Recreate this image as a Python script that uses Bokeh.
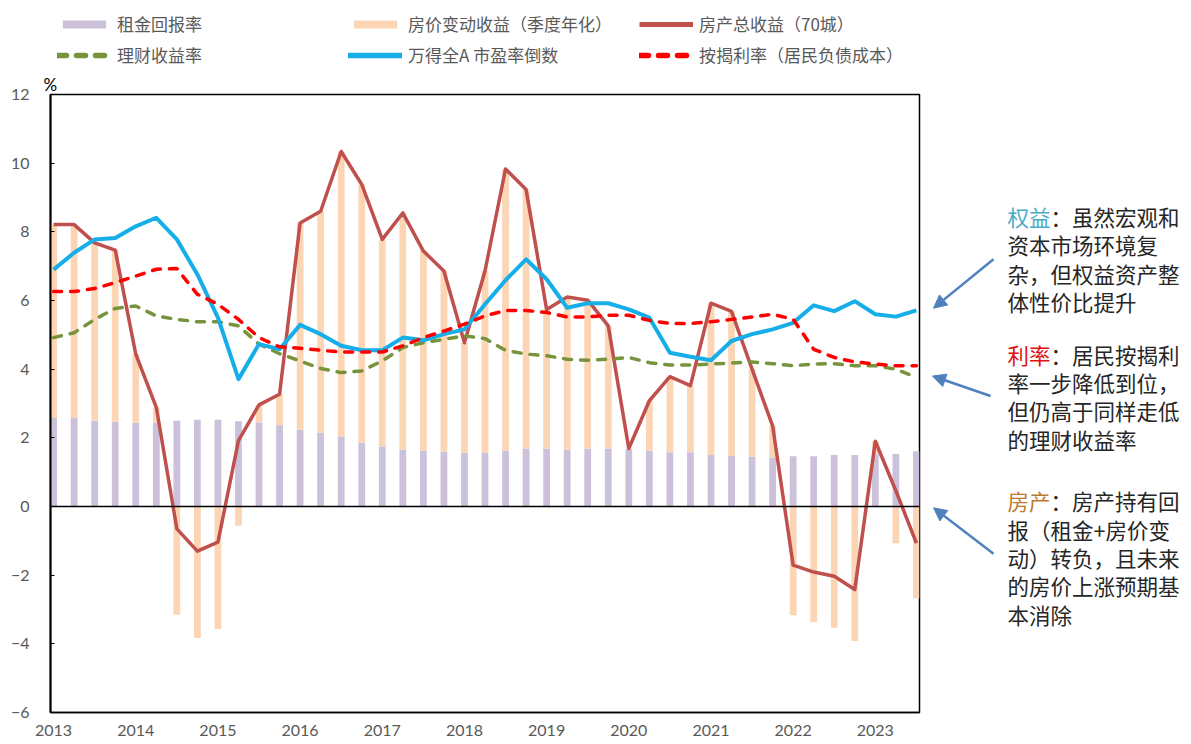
import numpy as np
from bokeh.plotting import figure
from bokeh.models import (Range1d, FixedTicker, Legend, LegendItem, Span, Label,
                          Arrow, NormalHead, ColumnDataSource)
from bokeh.layouts import row, column
from bokeh.embed import file_html
from bokeh.resources import INLINE

# ---------------- data (quarterly, 2013Q1 .. 2023Q3) ----------------
year_labels = ["2013", "2014", "2015", "2016", "2017", "2018", "2019", "2020", "2021", "2022", "2023"]

rent = [2.58, 2.58, 2.50, 2.47, 2.44, 2.45, 2.50, 2.53, 2.53, 2.48, 2.45, 2.37, 2.24, 2.15,
        2.04, 1.86, 1.75, 1.65, 1.63, 1.60, 1.56, 1.56, 1.63, 1.69, 1.69, 1.65, 1.69, 1.69,
        1.67, 1.63, 1.58, 1.58, 1.50, 1.48, 1.45, 1.43, 1.46, 1.46, 1.50, 1.50, 1.52, 1.53, 1.61]

price_change = [5.63, 5.63, 5.18, 5.00, 2.00, 0.44, -3.15, -3.83, -3.57, -0.56, 0.51, 0.90,
                6.02, 6.45, 8.30, 7.52, 6.03, 6.90, 5.81, 5.26, 3.21, 5.30, 8.20, 7.54, 4.05,
                4.45, 4.32, 3.57, 0.02, 1.45, 2.20, 1.94, 4.42, 4.20, 2.55, 0.92, -3.17, -3.37,
                -3.53, -3.92, 0.38, -1.07, -2.68]

total_return = [8.21, 8.21, 7.68, 7.47, 4.44, 2.89, -0.65, -1.30, -1.04, 1.92, 2.96, 3.27,
                8.26, 8.60, 10.34, 9.38, 7.78, 8.55, 7.44, 6.86, 4.77, 6.86, 9.83, 9.23, 5.74,
                6.10, 6.01, 5.26, 1.69, 3.08, 3.78, 3.52, 5.92, 5.68, 4.00, 2.35, -1.71, -1.91,
                -2.03, -2.42, 1.90, 0.46, -1.07]

wealth_yield = [4.92, 5.06, 5.45, 5.77, 5.84, 5.55, 5.45, 5.38, 5.38, 5.26, 4.73, 4.45, 4.24,
                4.02, 3.90, 3.95, 4.24, 4.63, 4.77, 4.87, 4.97, 4.89, 4.55, 4.44, 4.39, 4.29,
                4.26, 4.29, 4.34, 4.19, 4.12, 4.12, 4.15, 4.18, 4.21, 4.16, 4.10, 4.15, 4.16,
                4.10, 4.10, 4.00, 3.76]

wind_ep = [6.90, 7.39, 7.78, 7.82, 8.16, 8.41, 7.78, 6.76, 5.50, 3.71, 4.73, 4.58, 5.29, 5.02,
           4.68, 4.55, 4.55, 4.92, 4.84, 5.02, 5.16, 5.89, 6.59, 7.20, 6.62, 5.79, 5.92, 5.92,
           5.74, 5.50, 4.48, 4.36, 4.26, 4.82, 5.02, 5.16, 5.35, 5.86, 5.69, 5.98, 5.60, 5.53, 5.71]

mortgage_rate = [6.26, 6.26, 6.35, 6.52, 6.71, 6.91, 6.93, 6.18, 5.89, 5.45, 4.92, 4.65, 4.61,
                 4.55, 4.50, 4.50, 4.50, 4.68, 4.92, 5.11, 5.31, 5.55, 5.71, 5.71, 5.65, 5.52,
                 5.52, 5.57, 5.57, 5.42, 5.33, 5.33, 5.38, 5.45, 5.52, 5.60, 5.45, 4.58, 4.34,
                 4.21, 4.15, 4.10, 4.10]

series_names = ["租金回报率", "房价变动收益（季度年化）", "房产总收益（70城）",
                "理财收益率", "万得全A 市盈率倒数", "按揭利率（居民负债成本）"]

# ---------------- styles ----------------
C_RENT = "#CCC1DA"
C_PRICE = "#FCD5B5"
C_TOTAL = "#C0504D"
C_WEALTH = "#77933C"
C_WIND = "#16AEE8"
C_MORT = "#FF0000"
NUM_FONT = "Lato"
CJK_FONT = "Noto Sans CJK SC"
DASH = "8 9"

W_MAIN = 924
W_SIDE = 262
H_TOP = 71
H_MAIN = 672
B_LEFT, B_RIGHT, B_TOP, B_BOTTOM = 50, 5, 22, 31
FRAME_TOP = H_TOP + B_TOP                  # page y of the plot box top
FRAME_BOTTOM = H_TOP + H_MAIN - B_BOTTOM   # page y of the plot box bottom

# ---------------- build ----------------
n = len(rent)
xi = np.arange(n)
rent_a = np.array(rent)
pc = np.array(price_change)
pc_bottom = np.where(pc >= 0, rent_a, pc)
pc_top = np.where(pc >= 0, rent_a + pc, 0.0)

src = ColumnDataSource(dict(x=xi, rent=rent_a, pcb=pc_bottom, pct=pc_top,
                            total=total_return, wealth=wealth_yield,
                            wind=wind_ep, mort=mortgage_rate))


def style_blank(f):
    f.outline_line_color = None
    f.xgrid.visible = False
    f.ygrid.visible = False
    f.background_fill_color = "white"
    f.border_fill_color = "white"


# ---- top strip: legend ----
top = figure(width=W_MAIN, height=H_TOP, output_backend="svg", toolbar_location=None,
             x_range=Range1d(B_LEFT, W_MAIN - B_RIGHT), y_range=Range1d(H_TOP, 0),
             x_axis_type=None, y_axis_type=None)
style_blank(top)
top.min_border_left = B_LEFT
top.min_border_right = B_RIGHT
top.min_border_top = 0
top.min_border_bottom = 0
# legend proxies (kept off-screen, only their legend glyphs are visible)
proxy = ColumnDataSource(dict(x=[-1000], y=[-1000]))
g_rent = top.vbar(x="x", top="y", width=1, source=proxy, fill_color=C_RENT, line_color=None)
g_pc = top.vbar(x="x", top="y", width=1, source=proxy, fill_color=C_PRICE, line_color=None)
g_total = top.line("x", "y", source=proxy, line_color=C_TOTAL, line_width=5)
g_wealth = top.line("x", "y", source=proxy, line_color=C_WEALTH, line_width=5.5,
                    line_dash="9 10", line_cap="round")
g_wind = top.line("x", "y", source=proxy, line_color=C_WIND, line_width=5.5, line_cap="round")
g_mort = top.line("x", "y", source=proxy, line_color=C_MORT, line_width=5.5,
                  line_dash="9 10", line_cap="round")

legend = Legend(items=[LegendItem(label=nm, renderers=[r]) for nm, r in zip(
    series_names, [g_rent, g_pc, g_total, g_wealth, g_wind, g_mort])],
    location=(7, 4), orientation="horizontal", ncols=3,
    glyph_width=54, glyph_height=10, label_standoff=6, spacing=6, padding=5,
    label_width=225, label_height=24, border_line_color=None, background_fill_alpha=0,
    label_text_font=CJK_FONT, label_text_font_size="17px", label_text_color="#595959")
top.add_layout(legend, "center")

# ---- main chart ----
p = figure(width=W_MAIN, height=H_MAIN, output_backend="svg", toolbar_location=None,
           x_range=Range1d(-0.15, 42.15), y_range=Range1d(-6, 12), title="%")
p.min_border_left = B_LEFT
p.min_border_right = B_RIGHT
p.min_border_top = B_TOP
p.min_border_bottom = B_BOTTOM
p.title.align = "left"
p.title.offset = -7
p.title.standoff = 0
p.title.text_font = NUM_FONT
p.title.text_font_size = "17px"
p.title.text_font_style = "normal"
p.title.text_color = "black"
p.xgrid.visible = False
p.ygrid.visible = False
p.outline_line_color = "black"
p.outline_line_width = 1.5
p.background_fill_color = "white"
p.border_fill_color = "white"

p.xaxis.ticker = FixedTicker(ticks=list(range(0, 44, 4)))
p.xaxis.major_label_overrides = {i * 4: lab for i, lab in enumerate(year_labels)}
p.xaxis.major_tick_in = 0
p.xaxis.major_tick_out = 0
p.xaxis.minor_tick_line_color = None
p.xaxis.axis_line_color = "black"
p.xaxis.axis_line_width = 1.5
p.xaxis.major_label_standoff = 12
p.yaxis.ticker = FixedTicker(ticks=list(range(-6, 14, 2)))
p.yaxis.major_tick_in = 4
p.yaxis.major_tick_out = 0
p.yaxis.major_tick_line_color = "black"
p.yaxis.minor_tick_line_color = None
p.yaxis.axis_line_color = "black"
p.yaxis.axis_line_width = 2
p.yaxis.major_label_standoff = 21
for ax in (p.xaxis, p.yaxis):
    ax.major_label_text_font = NUM_FONT
    ax.major_label_text_font_size = "16px"
    ax.major_label_text_color = "#595959"

# stacked bars: rent + price change (negatives stack down from 0)
p.vbar(x="x", width=0.33, bottom=0, top="rent", source=src, fill_color=C_RENT, line_color=None)
p.vbar(x="x", width=0.33, bottom="pcb", top="pct", source=src, fill_color=C_PRICE, line_color=None)

p.add_layout(Span(location=0, dimension="width", line_color="black", line_width=1.5))

p.line("x", "total", source=src, line_color=C_TOTAL, line_width=3.5, line_join="round")
p.line("x", "wealth", source=src, line_color=C_WEALTH, line_width=3.5,
       line_dash=DASH, line_cap="round", line_join="round")
p.line("x", "wind", source=src, line_color=C_WIND, line_width=4, line_join="round")
p.line("x", "mort", source=src, line_color=C_MORT, line_width=3.5,
       line_dash=DASH, line_cap="round", line_join="round")

# ---- side annotation panel (data units = page pixels) ----
s = figure(width=W_SIDE, height=H_MAIN, output_backend="svg", toolbar_location=None,
           x_range=Range1d(W_MAIN, W_MAIN + W_SIDE),
           y_range=Range1d(FRAME_BOTTOM, FRAME_TOP),
           x_axis_type=None, y_axis_type=None)
style_blank(s)
s.min_border_left = 0
s.min_border_right = 0
s.min_border_top = B_TOP
s.min_border_bottom = B_BOTTOM

ARROW_C = "#4F81BD"
for (x0, y0, x1, y1) in [(993, 258, 933, 307), (990, 395, 932, 375), (993, 553, 933, 507)]:
    s.add_layout(Arrow(end=NormalHead(size=13, fill_color=ARROW_C, line_color=ARROW_C),
                       x_start=x0, y_start=y0, x_end=x1, y_end=y1,
                       line_color=ARROW_C, line_width=2.5))

FS = 21.5
TX = 1007
BODY_C = "#262626"
blocks = [
    ("权益", "#4BACC6", 215, ["：虽然宏观和", "资本市场环境复", "杂，但权益资产整", "体性价比提升"]),
    ("利率", "#E01010", 353, ["：居民按揭利", "率一步降低到位，", "但仍高于同样走低", "的理财收益率"]),
    ("房产", "#C0782F", 500, ["：房产持有回", "报（租金+房价变", "动）转负，且未来", "的房价上涨预期基", "本消除"]),
]
LS = 28.4
for head, hc, y0, lines in blocks:
    s.add_layout(Label(x=TX, y=y0, text=head, text_color=hc, text_font=CJK_FONT,
                       text_font_size=f"{FS}px", text_baseline="middle", text_align="left"))
    for k, ln in enumerate(lines):
        xx = TX + 2 * FS if k == 0 else TX
        s.add_layout(Label(x=xx, y=y0 + k * LS, text=ln, text_color=BODY_C, text_font=CJK_FONT,
                           text_font_size=f"{FS}px", text_baseline="middle", text_align="left"))

layout = column(top, row(p, s, spacing=0), spacing=0)
open("out.html", "w").write(file_html(layout, INLINE))
